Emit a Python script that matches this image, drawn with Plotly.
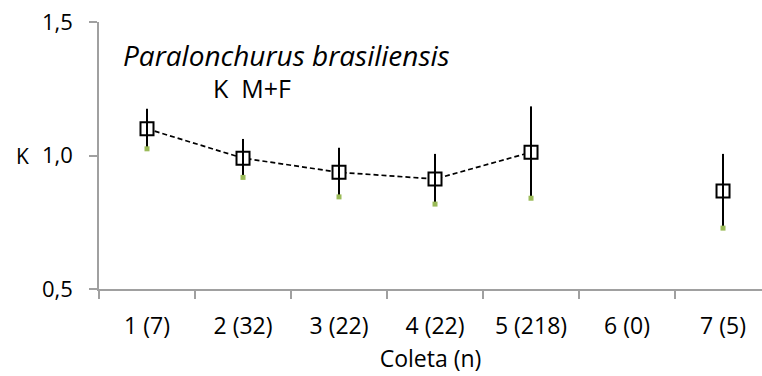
import plotly.graph_objects as go

# Condition factor K (males + females) per sampling campaign
coletas = ["1 (7)", "2 (32)", "3 (22)", "4 (22)", "5 (218)", "6 (0)", "7 (5)"]
k_mean = [1.10, 0.99, 0.937, 0.912, 1.012, None, 0.867]
k_err = [0.075, 0.072, 0.092, 0.094, 0.172, None, 0.139]

FONT = "Open Sans"
AXIS_GRAY = "#a0a0a0"

k_low = [None if m is None else m - e for m, e in zip(k_mean, k_err)]

fig = go.Figure()

# dashed line joining consecutive campaigns (gap where no fish were sampled)
fig.add_trace(go.Scatter(
    x=coletas, y=k_mean, mode="lines", connectgaps=False,
    line=dict(color="black", width=1.7, dash="5px,3px"),
    hoverinfo="skip", showlegend=False,
))

# white square markers
fig.add_trace(go.Scatter(
    x=coletas, y=k_mean, mode="markers",
    marker=dict(symbol="square", size=13, color="white",
                line=dict(color="black", width=2)),
    showlegend=False,
))

# error bars drawn over the markers
fig.add_trace(go.Scatter(
    x=coletas, y=k_mean, mode="markers",
    marker=dict(size=1, color="rgba(0,0,0,0)"),
    error_y=dict(type="data", array=k_err, visible=True,
                 thickness=2, width=0, color="black"),
    hoverinfo="skip", showlegend=False,
))

# lower bound markers
fig.add_trace(go.Scatter(
    x=coletas, y=k_low, mode="markers",
    marker=dict(symbol="square", size=5, color="#9bbb59", line=dict(width=0)),
    hoverinfo="skip", showlegend=False,
))

fig.update_layout(
    width=762, height=376,
    margin=dict(l=99, r=0, t=22, b=87),
    paper_bgcolor="white", plot_bgcolor="white",
    font=dict(family=FONT, size=22, color="black"),
    separators=",.",
    xaxis=dict(
        type="category", range=[-0.5, 6.406],
        tickson="boundaries", ticks="outside", ticklen=8,
        tickcolor=AXIS_GRAY, tickwidth=1.5,
        showline=True, linecolor=AXIS_GRAY, linewidth=1.5,
        showgrid=False, zeroline=False,
        ticklabelstandoff=16,
        tickfont=dict(family=FONT, size=23),
        title=dict(text="Coleta (n)", font=dict(family=FONT, size=23), standoff=11),
    ),
    yaxis=dict(
        range=[0.5, 1.5], tickvals=[0.5, 1.0, 1.5], tickformat=".1f",
        ticks="outside", ticklen=8, tickcolor=AXIS_GRAY, tickwidth=1.5,
        showline=True, linecolor=AXIS_GRAY, linewidth=1.5,
        showgrid=False, zeroline=False,
        ticklabelstandoff=12,
        tickfont=dict(family=FONT, size=22),
    ),
    annotations=[
        dict(text="K", xref="paper", yref="y", x=-99 / 663 + 22 / 663, y=1.0,
             xanchor="center", yanchor="middle", showarrow=False,
             font=dict(family=FONT, size=21)),
        dict(text="<i>Paralonchurus brasiliensis</i>", xref="paper", yref="paper",
             x=22 / 663, y=(289 - 55) / 267, xanchor="left", yanchor="middle",
             showarrow=False, font=dict(family=FONT, size=28)),
        dict(text="K  M+F", xref="paper", yref="paper",
             x=112 / 663, y=(289 - 88) / 267, xanchor="left", yanchor="middle",
             showarrow=False, font=dict(family=FONT, size=25)),
    ],
)

fig.write_html("out.html")
